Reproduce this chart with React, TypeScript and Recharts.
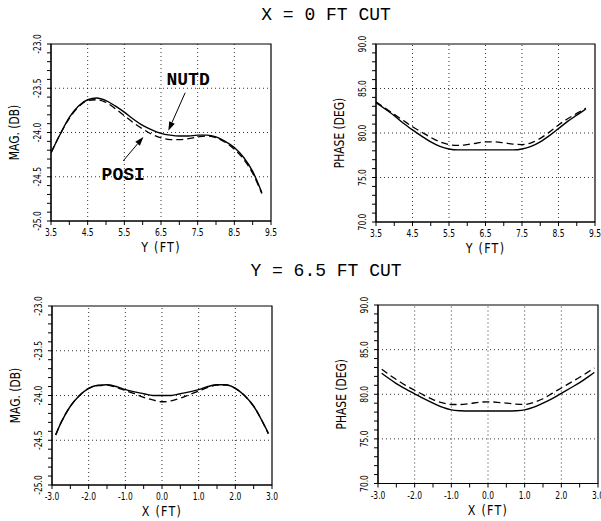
import React from 'react';
import { LineChart, Line, XAxis, YAxis, ReferenceLine, ReferenceArea, ReferenceDot } from 'recharts';

// X = 0 FT cut, sampled along Y (FT)
const yPos = [3.5, 3.75, 4.0, 4.25, 4.5, 4.75, 5.0, 5.25, 5.5, 5.75, 6.0, 6.25, 6.5, 6.75, 7.0, 7.25, 7.5, 7.75, 8.0, 8.25, 8.5, 8.75, 9.0, 9.25];
const magNutdY = [-24.23, -24.02, -23.83, -23.7, -23.63, -23.61, -23.64, -23.7, -23.77, -23.85, -23.92, -23.97, -24.01, -24.03, -24.04, -24.04, -24.03, -24.03, -24.05, -24.1, -24.17, -24.28, -24.44, -24.68];
const magPosiY = [-24.23, -24.02, -23.84, -23.71, -23.64, -23.63, -23.66, -23.73, -23.81, -23.89, -23.96, -24.02, -24.06, -24.08, -24.08, -24.07, -24.05, -24.04, -24.06, -24.11, -24.19, -24.3, -24.46, -24.69];
const phaseNutdY = [83.4, 82.7, 81.95, 81.1, 80.35, 79.65, 79.0, 78.5, 78.2, 78.1, 78.1, 78.1, 78.1, 78.1, 78.1, 78.1, 78.2, 78.5, 79.0, 79.7, 80.5, 81.3, 82.0, 82.7];
const phasePosiY = [83.5, 82.8, 82.1, 81.4, 80.7, 80.1, 79.5, 79.0, 78.7, 78.6, 78.7, 78.85, 79.0, 79.0, 78.9, 78.75, 78.7, 78.9, 79.4, 80.1, 80.9, 81.6, 82.2, 82.8];

// Y = 6.5 FT cut, sampled along X (FT)
const xPos = [-2.9, -2.75, -2.5, -2.25, -2.0, -1.75, -1.5, -1.25, -1.0, -0.75, -0.5, -0.25, 0, 0.25, 0.5, 0.75, 1.0, 1.25, 1.5, 1.75, 2.0, 2.25, 2.5, 2.75, 2.9];
const magNutdX = [-24.44, -24.3, -24.12, -24.0, -23.92, -23.885, -23.88, -23.9, -23.935, -23.96, -23.98, -24.0, -24.0, -24.0, -23.98, -23.96, -23.935, -23.9, -23.88, -23.88, -23.92, -24.0, -24.12, -24.3, -24.42];
const magPosiX = [-24.44, -24.3, -24.12, -24.0, -23.92, -23.89, -23.885, -23.91, -23.945, -23.98, -24.02, -24.05, -24.07, -24.06, -24.03, -23.99, -23.95, -23.91, -23.885, -23.885, -23.92, -24.0, -24.12, -24.3, -24.43];
const phaseNutdX = [82.35, 81.9, 81.2, 80.6, 80.05, 79.5, 79.0, 78.55, 78.25, 78.15, 78.12, 78.12, 78.12, 78.12, 78.12, 78.15, 78.25, 78.55, 79.0, 79.5, 80.1, 80.7, 81.3, 82.0, 82.45];
const phasePosiX = [82.8, 82.35, 81.65, 81.0, 80.45, 79.9, 79.4, 79.05, 78.85, 78.85, 78.95, 79.1, 79.15, 79.1, 79.0, 78.9, 78.85, 79.1, 79.5, 80.1, 80.7, 81.3, 81.9, 82.55, 82.95];

// tick labels
const yFtMajor = [3.5, 4.5, 5.5, 6.5, 7.5, 8.5, 9.5];
const xFtMajor = [-3.0, -2.0, -1.0, 0.0, 1.0, 2.0, 3.0];
const magMajor = [-25.0, -24.5, -24.0, -23.5, -23.0];
const phaseMajor = [70.0, 75.0, 80.0, 85.0, 90.0];

const steps = (a: number, b: number, s: number) => {
  const out: number[] = [];
  for (let v = a; v <= b + 1e-9; v += s) out.push(Math.round(v * 1000) / 1000);
  return out;
};

const tickFont = "'Liberation Sans Narrow', 'DejaVu Sans Condensed', 'Liberation Sans', sans-serif";
const monoFont = "'Liberation Mono', 'DejaVu Sans Mono', monospace";
const NARROW = 0.8;

const isMajor = (list: number[], v: number) => list.some((m) => Math.abs(m - v) < 1e-6);

const makeXTick = (major: number[]) => (p: any) => {
  const v = p.payload.value;
  if (!isMajor(major, v)) return <g />;
  return (
    <text x={0} y={0} transform={`translate(${p.x},${p.y}) scale(${NARROW},1)`} dy="0.71em" textAnchor="middle" fontSize={10.5} fontFamily={tickFont} fill="#000">
      {v.toFixed(1)}
    </text>
  );
};

const makeYTick = (major: number[]) => (p: any) => {
  const v = p.payload.value;
  if (!isMajor(major, v)) return <g />;
  return (
    <text x={0} y={0} transform={`translate(${p.x - 4},${p.y}) rotate(-90) scale(${NARROW},1)`} textAnchor="middle" fontSize={10.5} fontFamily={tickFont} fill="#000">
      {v.toFixed(1)}
    </text>
  );
};

type PanelProps = {
  xs: number[];
  nutd: number[];
  posi: number[];
  left: number;
  top: number;
  plotW: number;
  plotH: number;
  xDomain: [number, number];
  xStep: number;
  xMajor: number[];
  yDomain: [number, number];
  yStep: number;
  yMajor: number[];
  xTitle: string;
  yTitle: string;
  children?: React.ReactNode;
};

const Y_W = 52;
const TOP_PAD = 20;
const RIGHT_PAD = 30;
const X_H = 40;

const Panel = (p: PanelProps) => {
  const rows = p.xs.map((x, i) => ({ x, nutd: p.nutd[i], posi: p.posi[i] }));
  const w = Y_W + p.plotW + RIGHT_PAD;
  const h = TOP_PAD + p.plotH + X_H;
  const innerX = p.xMajor.slice(1, -1);
  const innerY = p.yMajor.slice(1, -1);
  return (
    <div style={{ position: 'absolute', left: p.left - Y_W, top: p.top - TOP_PAD }}>
      <LineChart width={w} height={h} data={rows} margin={{ top: TOP_PAD, right: RIGHT_PAD, bottom: 0, left: 0 }}>
        <XAxis
          type="number"
          dataKey="x"
          domain={p.xDomain}
          allowDataOverflow
          ticks={steps(p.xDomain[0], p.xDomain[1], p.xStep)}
          interval={0}
          height={X_H}
          tickSize={4}
          tickMargin={4}
          stroke="#000"
          tick={makeXTick(p.xMajor)}
          label={{
            content: (lp: any) => {
              const vb = lp.viewBox || {};
              return (
                <text x={0} y={0} transform={`translate(${vb.x + vb.width / 2},${vb.y + 31}) scale(0.85,1)`} textAnchor="middle" fontSize={14.5} fontFamily={tickFont} fill="#000" letterSpacing={1.5}>
                  {p.xTitle}
                </text>
              );
            },
          }}
        />
        <YAxis
          type="number"
          domain={p.yDomain}
          allowDataOverflow
          ticks={steps(p.yDomain[0], p.yDomain[1], p.yStep)}
          interval={0}
          width={Y_W}
          tickSize={4}
          tickMargin={2}
          stroke="#000"
          tick={makeYTick(p.yMajor)}
          label={{
            content: (lp: any) => {
              const vb = lp.viewBox || {};
              const cx = vb.x + 20;
              const cy = vb.y + vb.height / 2;
              return (
                <text x={0} y={0} transform={`translate(${cx},${cy}) rotate(-90) scale(0.85,1)`} textAnchor="middle" fontSize={14} fontFamily={tickFont} fill="#000">
                  {p.yTitle}
                </text>
              );
            },
          }}
        />
        {innerX.map((v) => (
          <ReferenceLine key={'gx' + v} x={v} stroke="#000" strokeWidth={0.8} strokeDasharray="1 3" />
        ))}
        {innerY.map((v) => (
          <ReferenceLine key={'gy' + v} y={v} stroke="#000" strokeWidth={0.8} strokeDasharray="1 3" />
        ))}
        <ReferenceArea x1={p.xDomain[0]} x2={p.xDomain[1]} y1={p.yDomain[0]} y2={p.yDomain[1]} fill="none" fillOpacity={0} stroke="#000" strokeWidth={1.2} />
        <Line type="monotone" dataKey="nutd" stroke="#000" strokeWidth={1.4} dot={false} isAnimationActive={false} />
        <Line type="monotone" dataKey="posi" stroke="#000" strokeWidth={1.3} strokeDasharray="7 4" dot={false} isAnimationActive={false} />
        {p.children}
      </LineChart>
    </div>
  );
};

const Arrow = (props: any) => {
  const { x1, y1, x2, y2 } = props;
  const ang = Math.atan2(y2 - y1, x2 - x1);
  const len = 9;
  const hw = 3;
  const bx = x2 - len * Math.cos(ang);
  const by = y2 - len * Math.sin(ang);
  const pts = [
    [x2, y2],
    [bx - hw * Math.sin(ang), by + hw * Math.cos(ang)],
    [bx + hw * Math.sin(ang), by - hw * Math.cos(ang)],
  ]
    .map((q) => q.join(','))
    .join(' ');
  return (
    <g>
      <line x1={x1} y1={y1} x2={bx} y2={by} stroke="#000" strokeWidth={1} />
      <polygon points={pts} fill="#000" />
    </g>
  );
};

const tag = (text: string) => (props: any) => (
  <text x={props.cx} y={props.cy} dy="0.35em" textAnchor="middle" fontSize={18} fontWeight="bold" fontFamily={monoFont} fill="#000">
    {text}
  </text>
);

const titleStyle: React.CSSProperties = {
  position: 'absolute',
  left: 176,
  width: 300,
  textAlign: 'center',
  fontFamily: monoFont,
  fontSize: 18,
  lineHeight: '18px',
  whiteSpace: 'pre',
};

export default function App() {
  return (
    <div style={{ position: 'absolute', left: 0, top: 0, width: 601, height: 521, overflow: 'hidden', background: '#fff' }}>
      <div style={{ ...titleStyle, top: 6 }}>X = 0 FT CUT</div>
      <div style={{ ...titleStyle, top: 262 }}>Y = 6.5 FT CUT</div>

      <Panel
        xs={yPos} nutd={magNutdY} posi={magPosiY}
        left={50.5} top={43.5} plotW={220} plotH={177}
        xDomain={[3.5, 9.5]} xStep={0.5} xMajor={yFtMajor}
        yDomain={[-25, -23]} yStep={0.1} yMajor={magMajor}
        xTitle="Y (FT)" yTitle="MAG. (DB)"
      >
        <ReferenceLine segment={[{ x: 7.16, y: -23.55 }, { x: 6.7, y: -23.98 }]} shape={Arrow} />
        <ReferenceLine segment={[{ x: 5.47, y: -24.32 }, { x: 6.02, y: -24.05 }]} shape={Arrow} />
        <ReferenceDot x={7.24} y={-23.39} r={0} shape={tag('NUTD')} />
        <ReferenceDot x={5.47} y={-24.47} r={0} shape={tag('POSI')} />
      </Panel>

      <Panel
        xs={yPos} nutd={phaseNutdY} posi={phasePosiY}
        left={376} top={43.5} plotW={219} plotH={178}
        xDomain={[3.5, 9.5]} xStep={0.5} xMajor={yFtMajor}
        yDomain={[70, 90]} yStep={1} yMajor={phaseMajor}
        xTitle="Y (FT)" yTitle="PHASE (DEG)"
      />

      <Panel
        xs={xPos} nutd={magNutdX} posi={magPosiX}
        left={52} top={306} plotW={220} plotH={179}
        xDomain={[-3, 3]} xStep={0.5} xMajor={xFtMajor}
        yDomain={[-25, -23]} yStep={0.1} yMajor={magMajor}
        xTitle="X (FT)" yTitle="MAG. (DB)"
      />

      <Panel
        xs={xPos} nutd={phaseNutdX} posi={phasePosiX}
        left={378} top={305} plotW={220} plotH={178.5}
        xDomain={[-3, 3]} xStep={0.5} xMajor={xFtMajor}
        yDomain={[70, 90]} yStep={1} yMajor={phaseMajor}
        xTitle="X (FT)" yTitle="PHASE (DEG)"
      />
    </div>
  );
}
